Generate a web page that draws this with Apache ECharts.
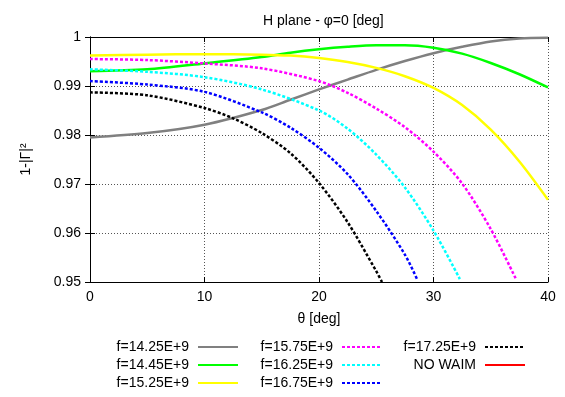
<!DOCTYPE html>
<html>
<head>
<meta charset="utf-8">
<script src="https://cdn.jsdelivr.net/npm/echarts@6/dist/echarts.min.js"></script>
<style>html,body{margin:0;padding:0;background:#fff}#c{width:565px;height:397px}</style>
</head>
<body>
<div id="c"></div>
<script>
// ---- data ----
var xTicks = [0, 10, 20, 30, 40];
var yTicks = [0.95, 0.96, 0.97, 0.98, 0.99, 1];

var names = ['f=14.25E+9','f=14.45E+9','f=15.25E+9','f=15.75E+9','f=16.25E+9','f=16.75E+9','f=17.25E+9','NO WAIM'];

var th1425 = [0, 5, 10, 15, 17.5, 20, 22.5, 25, 27.5, 30, 32.5, 35, 37.5, 40];
var v1425  = [0.9795, 0.9804, 0.9821, 0.9851, 0.9872, 0.9893, 0.9913, 0.9933, 0.9951, 0.9967, 0.9980, 0.9991, 0.9997, 0.99985];

var th1445 = [0, 5, 10, 15, 17.5, 20, 22.5, 25, 27.5, 30, 32.5, 35, 37.5, 40];
var v1445  = [0.9930, 0.9934, 0.9946, 0.9959, 0.9968, 0.9975, 0.9980, 0.9983, 0.9983, 0.9978, 0.9966, 0.9947, 0.9924, 0.9897];

var th1525 = [0, 5, 10, 15, 17.5, 20, 22.5, 25, 27.5, 30, 32.5, 35, 37.5, 40];
var v1525  = [0.9962, 0.9964, 0.9965, 0.9964, 0.9962, 0.9957, 0.9949, 0.9937, 0.9920, 0.9896, 0.9861, 0.9811, 0.9746, 0.9668];

var th1575 = [0, 5, 10, 15, 20, 22.5, 25, 27.5, 30, 32.5, 35, 37.2];
var v1575  = [0.9955, 0.9953, 0.9946, 0.9936, 0.9910, 0.9886, 0.9854, 0.9816, 0.9766, 0.9701, 0.9608, 0.9506];

var th1625 = [0, 5, 10, 15, 20, 22.5, 25, 27.5, 30, 32.3];
var v1625  = [0.9934, 0.9929, 0.9918, 0.9893, 0.9850, 0.9813, 0.9760, 0.9693, 0.9605, 0.9506];

var th1675 = [0, 5, 10, 15, 17.5, 20, 22.5, 25, 27.5, 28.6];
var v1675  = [0.9910, 0.9903, 0.9888, 0.9846, 0.9815, 0.9774, 0.9720, 0.9645, 0.9556, 0.9504];

var th1725 = [0, 5, 10, 12.5, 15, 17.5, 20, 22.5, 25, 25.5];
var v1725  = [0.9887, 0.9881, 0.9855, 0.9834, 0.9804, 0.9763, 0.9702, 0.9622, 0.9522, 0.9500];

var thNoWaim = [];
var vNoWaim  = [];

// ---- build chart ----
function pairs(t, v) { return t.map(function (x, i) { return [x, v[i]]; }); }
var FONT = "'Liberation Sans', Arial, sans-serif";
var FS = 14;
var colors = ['#808080', '#00ff00', '#ffff00', '#ff00ff', '#00ffff', '#0000ff', '#000000', '#ff0000'];
var dashed = [false, false, false, true, true, true, true, false];
var dataSets = [
  pairs(th1425, v1425), pairs(th1445, v1445), pairs(th1525, v1525), pairs(th1575, v1575),
  pairs(th1625, v1625), pairs(th1675, v1675), pairs(th1725, v1725), pairs(thNoWaim, vNoWaim)
];

var series = names.map(function (n, i) {
  return {
    name: n, type: 'line', data: dataSets[i], symbol: 'none', showSymbol: false,
    smooth: 0.3, clip: true,
    color: colors[i],
    lineStyle: { color: colors[i], width: 2.5, type: dashed[i] ? [3, 2] : 'solid' }
  };
});

function legendCol(list, right) {
  return {
    data: list, orient: 'vertical', align: 'right', right: right, top: 340,
    padding: 0, itemGap: 4, itemWidth: 40, itemHeight: 14,
    itemStyle: { opacity: 0 },
    textStyle: { fontFamily: FONT, fontSize: FS, color: '#000', width: 84, align: 'right', padding: [0, 4, 0, 0] }
  };
}

var axisCommon = {
  axisLine: { show: true, lineStyle: { color: '#000', width: 1 } },
  axisTick: { show: true, inside: true, length: 5, lineStyle: { color: '#000' } }
};

var option = {
  animation: false,
  backgroundColor: '#fff',
  title: {
    text: 'H plane - φ=0 [deg]', left: 258, top: 9,
    textStyle: { fontFamily: FONT, fontSize: FS, fontWeight: 'normal', color: '#000' }
  },
  grid: { left: 90, right: 17, top: 37, bottom: 115, containLabel: false },
  legend: [
    legendCol(names.slice(0, 3), 326),
    legendCol(names.slice(3, 6), 182),
    legendCol(names.slice(6, 8), 39)
  ],
  xAxis: [
    Object.assign({
      type: 'value', min: xTicks[0], max: xTicks[xTicks.length - 1], interval: xTicks[1] - xTicks[0],
      position: 'bottom',
      name: 'θ [deg]', nameLocation: 'middle', nameGap: 30,
      nameTextStyle: { fontFamily: FONT, fontSize: FS, color: '#000' },
      axisLabel: { fontFamily: FONT, fontSize: FS, color: '#000', margin: 8 },
      splitLine: { show: true, lineStyle: { color: '#555', width: 1, type: [1, 2] } }
    }, axisCommon),
    Object.assign({
      type: 'value', min: xTicks[0], max: xTicks[xTicks.length - 1], interval: xTicks[1] - xTicks[0],
      position: 'top', axisLabel: { show: false }, splitLine: { show: false }
    }, axisCommon)
  ],
  yAxis: [
    Object.assign({
      type: 'value', min: yTicks[0], max: yTicks[yTicks.length - 1], interval: 0.01,
      position: 'left',
      name: '1-|Γ|²', nameLocation: 'middle', nameGap: 57, nameRotate: 90,
      nameTextStyle: { fontFamily: FONT, fontSize: FS, color: '#000' },
      axisLabel: {
        fontFamily: FONT, fontSize: FS, color: '#000', margin: 9,
        formatter: function (v) { return String(+v.toFixed(2)); }
      },
      splitLine: { show: true, lineStyle: { color: '#555', width: 1, type: [1, 2] } }
    }, axisCommon),
    Object.assign({
      type: 'value', min: yTicks[0], max: yTicks[yTicks.length - 1], interval: 0.01,
      position: 'right', axisLabel: { show: false }, splitLine: { show: false }
    }, axisCommon)
  ],
  series: series
};

var chart = echarts.init(document.getElementById('c'), null, { renderer: 'canvas' });
chart.setOption(option);
</script>
</body>
</html>
